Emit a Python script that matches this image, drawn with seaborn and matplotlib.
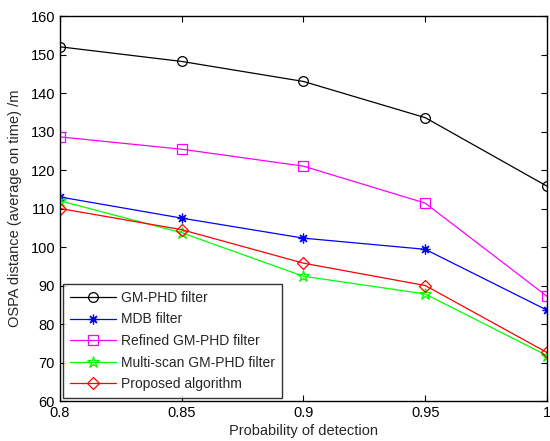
import matplotlib
matplotlib.use("Agg")
import matplotlib.pyplot as plt
import seaborn as sns
import pandas as pd

pd_vals = [0.8, 0.85, 0.9, 0.95, 1.0]
gm_phd = [152.0, 148.2, 143.0, 133.6, 115.8]
mdb = [113.0, 107.5, 102.3, 99.4, 83.6]
refined = [128.6, 125.4, 121.0, 111.4, 87.2]
multiscan = [112.0, 103.7, 92.4, 87.8, 71.8]
proposed = [110.0, 104.5, 95.8, 90.0, 72.6]

series = [
    ("GM-PHD filter", gm_phd, "black", "o", 7),
    ("MDB filter", mdb, "blue", (8, 2, 0), 7),
    ("Refined GM-PHD filter", refined, "magenta", "s", 7),
    ("Multi-scan GM-PHD filter", multiscan, "lime", "*", 9),
    ("Proposed algorithm", proposed, "red", "D", 6),
]

sns.set_style("ticks")
plt.rcParams['font.family'] = ['Liberation Sans', 'DejaVu Sans']
plt.rcParams['font.size'] = 10

fig = plt.figure(figsize=(5.5, 4.41), dpi=100)
ax = fig.add_axes([0.109, 0.0907, 0.8855, 0.873])

for name, vals, col, mk, ms in series:
    df = pd.DataFrame({"x": pd_vals, "y": vals})
    sns.lineplot(data=df, x="x", y="y", ax=ax, color=col, marker=mk,
                 markersize=ms, markerfacecolor="none", markeredgecolor=col,
                 markeredgewidth=0.9, linewidth=0.9, label=name)

ax.set_xlim(0.8, 1.0)
ax.set_ylim(60, 160)
ax.set_xticks([0.8, 0.85, 0.9, 0.95, 1.0])
ax.set_xticklabels(["0.8", "0.85", "0.9", "0.95", "1"])
ax.set_yticks(range(60, 161, 10))
ax.tick_params(direction="in", top=True, right=True, length=4.5, width=0.8,
               labelsize=10.5, colors="black")
for s in ax.spines.values():
    s.set_linewidth(1.0)
    s.set_color("black")
ax.set_xlabel("Probability of detection", fontsize=10.5, labelpad=3)
ax.set_ylabel("OSPA distance (average on time) /m", fontsize=10.5, labelpad=6)

leg = ax.legend(loc="lower left", bbox_to_anchor=(0.0, 0.0), frameon=True,
                fancybox=False, edgecolor="black", fontsize=10,
                handlelength=3.3, handletextpad=0.4, borderpad=0.5,
                labelspacing=0.55, borderaxespad=0.2)
leg.get_frame().set_linewidth(1.0)

fig.savefig("out.png", dpi=100)
